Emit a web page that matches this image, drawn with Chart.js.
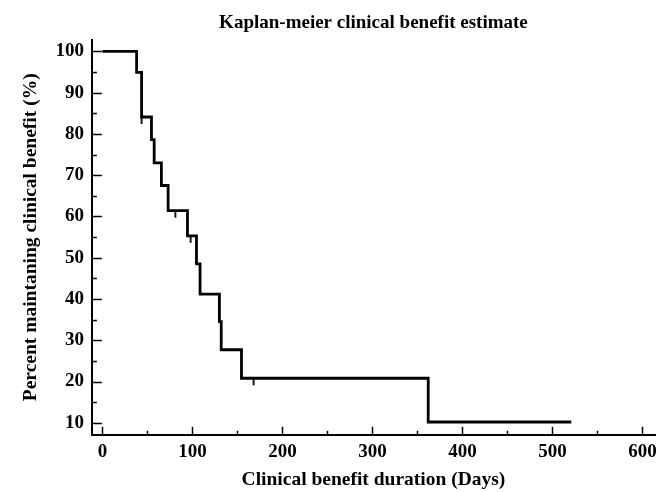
<!DOCTYPE html>
<html>
<head>
<meta charset="utf-8">
<script src="https://cdn.jsdelivr.net/npm/chart.js@4.4.1/dist/chart.umd.min.js"></script>
<style>
  html, body { margin: 0; padding: 0; background: #fff; }
  #wrap { width: 670px; height: 492px; position: relative; }
</style>
</head>
<body>
<div id="wrap"><canvas id="c" width="670" height="492"></canvas></div>
<script>
// ---- Data ----
const days   = [0, 38, 43.5, 54.5, 57.5, 65.5, 73, 94.5, 104.5, 108.5, 130, 132, 154.5, 362, 521];
const surv   = [100, 94.9, 84.1, 78.6, 73.0, 67.5, 61.4, 55.3, 48.5, 41.2, 34.5, 27.7, 20.8, 10.2, 10.2];
const censorDays = [43.5, 81, 98, 168];
const censorSurv = [84.1, 61.4, 55.3, 20.8];
const xTicks = [0, 100, 200, 300, 400, 500, 600];
const xMinorTicks = [50, 150, 250, 350, 450, 550];
const yTicks = [10, 20, 30, 40, 50, 60, 70, 80, 90, 100];
const yMinorTicks = [15, 25, 35, 45, 55, 65, 75, 85, 95];

const FONT = "'Liberation Serif', 'Times New Roman', serif";

// censor mark: short vertical tick hanging below the point
function makeCensorMark() {
  const c = document.createElement('canvas');
  c.width = 4; c.height = 16;
  const g = c.getContext('2d');
  g.strokeStyle = '#000'; g.lineWidth = 1.8;
  g.beginPath(); g.moveTo(2, 8); g.lineTo(2, 15); g.stroke();
  return c;
}

const inwardTicks = {
  id: 'inwardTicks',
  afterDraw(chart) {
    const ctx = chart.ctx, x = chart.scales.x, y = chart.scales.y;
    const a = chart.chartArea;
    ctx.save();
    ctx.strokeStyle = '#000';
    ctx.lineWidth = 1.5;
    const seg = (x1, y1, x2, y2) => { ctx.beginPath(); ctx.moveTo(x1, y1); ctx.lineTo(x2, y2); ctx.stroke(); };
    xTicks.forEach(v => { const p = Math.round(x.getPixelForValue(v)) + 0.5; seg(p, a.bottom, p, a.bottom - 8); });
    xMinorTicks.forEach(v => { const p = Math.round(x.getPixelForValue(v)) + 0.5; seg(p, a.bottom, p, a.bottom - 4); });
    yTicks.forEach(v => { const p = Math.round(y.getPixelForValue(v)) + 0.5; seg(a.left, p, a.left + 10, p); });
    yMinorTicks.forEach(v => { const p = Math.round(y.getPixelForValue(v)) + 0.5; seg(a.left, p, a.left + 5, p); });
    ctx.restore();
  }
};

new Chart(document.getElementById('c'), {
  type: 'line',
  data: {
    datasets: [
      {
        label: 'KM',
        data: days.map((d, i) => ({ x: d, y: surv[i] })),
        stepped: 'before',
        borderColor: '#000',
        borderWidth: 2.8,
        pointRadius: 0,
        fill: false
      },
      {
        label: 'censored',
        type: 'scatter',
        data: censorDays.map((d, i) => ({ x: d, y: censorSurv[i] })),
        pointStyle: makeCensorMark(),
        pointRadius: 5,
        showLine: false
      }
    ]
  },
  options: {
    responsive: false,
    animation: false,
    devicePixelRatio: 1,
    layout: { padding: { left: 19, right: 15, top: 8, bottom: 0 } },
    plugins: {
      legend: { display: false },
      tooltip: { enabled: false },
      title: {
        display: true,
        fullSize: false,
        text: 'Kaplan-meier clinical benefit estimate',
        color: '#000',
        font: { family: FONT, size: 19, weight: 'bold' },
        padding: { top: 4, bottom: 5 }
      }
    },
    scales: {
      x: {
        type: 'linear',
        min: -11.7,
        max: 614,
        afterBuildTicks: s => { s.ticks = xTicks.map(v => ({ value: v })); },
        grid: { display: false, drawTicks: false },
        border: { display: true, color: '#000', width: 2 },
        ticks: { color: '#000', padding: 6, maxRotation: 0, font: { family: FONT, size: 19, weight: 'bold' } },
        title: {
          display: true,
          text: 'Clinical benefit duration (Days)',
          color: '#000',
          font: { family: FONT, size: 19.5, weight: 'bold' },
          padding: { top: -1, bottom: 0 }
        }
      },
      y: {
        type: 'linear',
        min: 7.1,
        max: 102.8,
        afterBuildTicks: s => { s.ticks = yTicks.map(v => ({ value: v })); },
        grid: { display: false, drawTicks: false },
        border: { display: true, color: '#000', width: 2 },
        ticks: { color: '#000', padding: 8, font: { family: FONT, size: 19, weight: 'bold' } },
        title: {
          display: true,
          text: 'Percent maintaning clinical benefit (%)',
          color: '#000',
          font: { family: FONT, size: 19.5, weight: 'bold' },
          padding: { top: 0, bottom: 5 }
        }
      }
    }
  },
  plugins: [inwardTicks]
});
</script>
</body>
</html>
